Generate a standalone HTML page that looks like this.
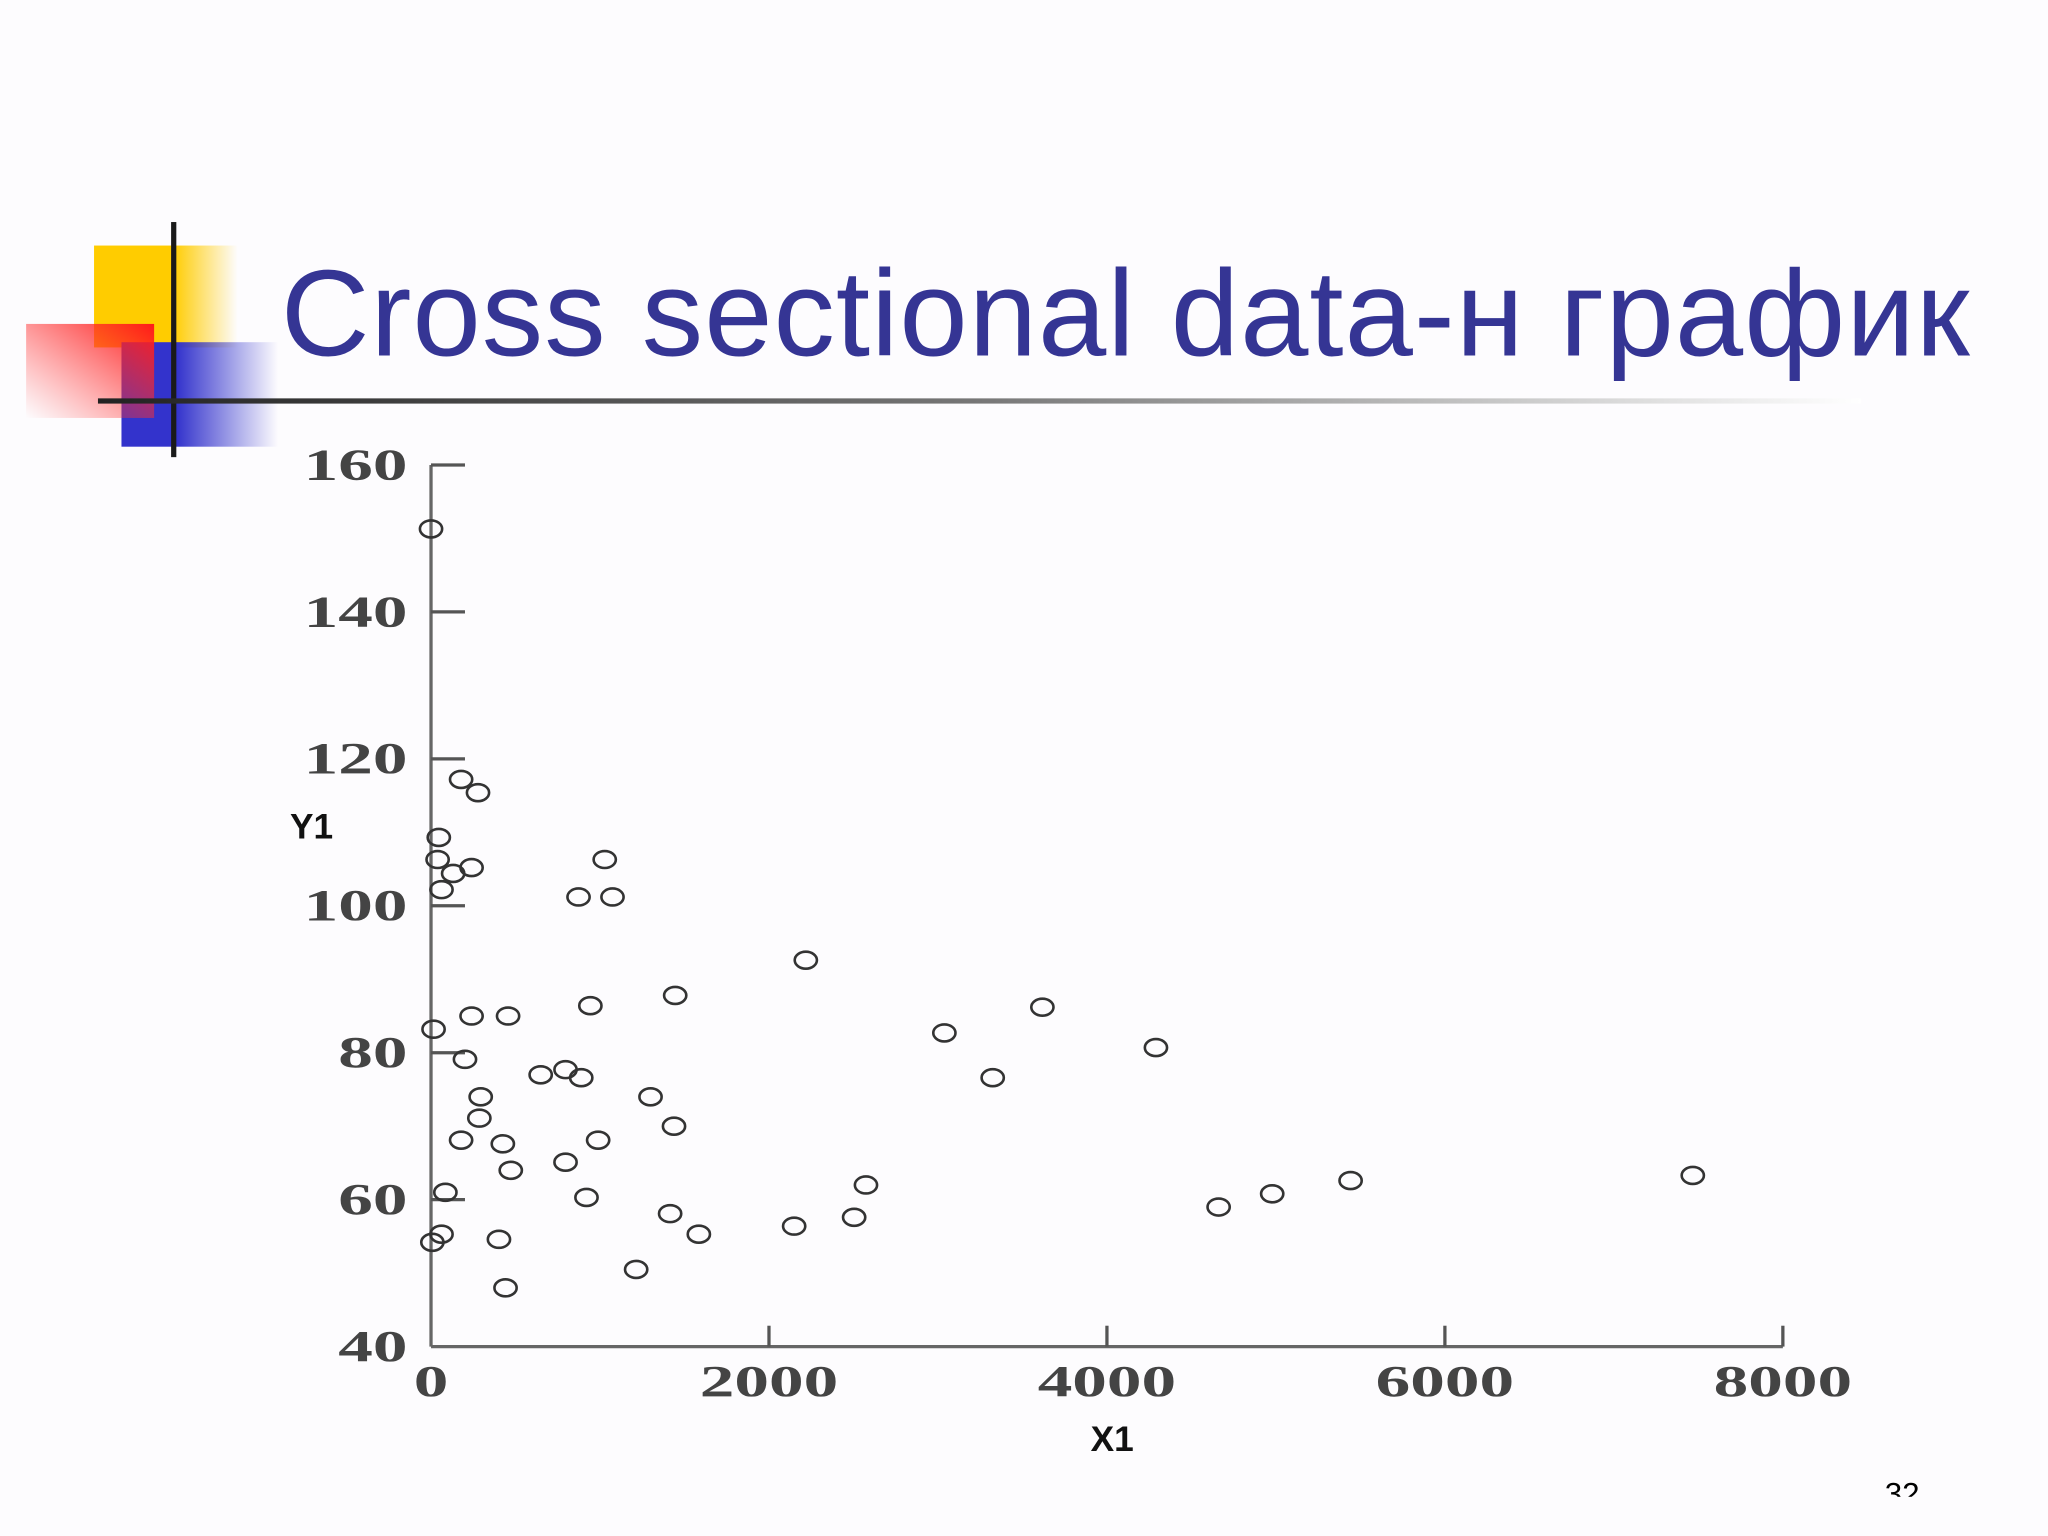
<!DOCTYPE html>
<html><head><meta charset="utf-8"><style>
html,body{margin:0;padding:0;background:#fdfcfe;}
svg{display:block;}
</style></head><body>
<svg width="2048" height="1536" viewBox="0 0 1568 1176" xmlns="http://www.w3.org/2000/svg">
<defs>
<linearGradient id="yel" x1="0" x2="1"><stop offset="0" stop-color="#ffcc00"/><stop offset="0.55" stop-color="#ffcc00"/><stop offset="1" stop-color="#ffcc00" stop-opacity="0"/></linearGradient>
<linearGradient id="blu" x1="0" x2="1"><stop offset="0" stop-color="#3333cc"/><stop offset="0.35" stop-color="#3333cc"/><stop offset="1" stop-color="#3333cc" stop-opacity="0"/></linearGradient>
<linearGradient id="red" x1="1" y1="0" x2="0" y2="1"><stop offset="0" stop-color="#ff1a1a"/><stop offset="1" stop-color="#ff4444" stop-opacity="0"/></linearGradient>
<linearGradient id="hl" x1="0" x2="1"><stop offset="0" stop-color="#222"/><stop offset="0.5" stop-color="#777"/><stop offset="1" stop-color="#fff"/></linearGradient>
</defs>
<rect width="1568" height="1176" fill="#fdfcfe"/>
<g>
<rect x="72" y="188" width="110" height="78" fill="url(#yel)"/>
<rect x="93" y="262" width="120" height="80" fill="url(#blu)"/>
<rect x="20" y="248" width="98" height="72" fill="url(#red)"/>
<rect x="131" y="170" width="4" height="180" fill="#1a1a1a"/>
<rect x="75" y="305" width="1350" height="4" fill="url(#hl)"/>
</g>
<text x="215" y="272" font-family="Liberation Sans, sans-serif" font-size="94" fill="#353594" textLength="1293">Cross sectional data-н график</text>
<g id="chart"></g>
<text x="1443" y="1152" font-family="Liberation Sans, sans-serif" font-size="24" fill="#000">32</text>
<rect x="1400" y="1146" width="120" height="30" fill="#fdfcfe"/>
</svg>
<script>
const xTicks=[0,2000,4000,6000,8000];
const yTicks=[40,60,80,100,120,140,160];
const xVals=[0,178,278,46,39,131,240,62,873,1074,1028,2218,15,240,456,943,1445,201,649,796,889,294,1299,286,1438,178,425,989,472,796,85,920,1415,2504,2574,2149,1585,62,8,402,1214,441,3038,3324,3618,4290,4661,4978,5442,7467];
const yVals=[151.3,117.2,115.4,109.3,106.3,104.4,105.2,102.2,101.2,101.2,106.3,92.6,83.2,85,85,86.4,87.8,79.1,77,77.7,76.6,74,74,71.1,70,68.1,67.6,68.1,64,65.1,61,60.3,58.1,57.6,62,56.4,55.3,55.3,54.2,54.6,50.5,48,82.7,76.6,86.2,80.7,59,60.8,62.6,63.3];
const NS='http://www.w3.org/2000/svg';
const g=document.getElementById('chart');
const X0=330,X1=1365,Y0=1031,Y1=356;
function sx(v){return X0+(v-0)/(8000-0)*(X1-X0);}
function sy(v){return Y0-(v-40)/(160-40)*(Y0-Y1);}
function mk(t,a){const e=document.createElementNS(NS,t);for(const k in a)e.setAttribute(k,a[k]);g.appendChild(e);return e;}
let e;
e=mk('line',{x1:X0,y1:Y1,x2:X0,y2:Y0,stroke:'#666','stroke-width':2.5});


e=mk('line',{x1:X0,y1:Y0,x2:X1,y2:Y0,stroke:'#666','stroke-width':2.5});


yTicks.forEach(v=>{
 if(v>40){e=mk('line',{x1:X0,y1:sy(v),x2:X0+26,y2:sy(v),stroke:'#555','stroke-width':2.5});
 
 }
 const s=String(v);
 e=mk('text',{x:312,y:sy(v)+11,'text-anchor':'end','font-family':'Liberation Serif, serif','font-size':34,'font-weight':'bold',fill:'#444',textLength:s.length*26.5,lengthAdjust:'spacingAndGlyphs'});
 e.textContent=s;
 
 
});
xTicks.forEach(v=>{
 if(v>0){e=mk('line',{x1:sx(v),y1:Y0,x2:sx(v),y2:Y0-16,stroke:'#555','stroke-width':2.5});
 
 }
 const s=String(v);
 e=mk('text',{x:sx(v),y:1069,'text-anchor':'middle','font-family':'Liberation Serif, serif','font-size':34,'font-weight':'bold',fill:'#444',textLength:s.length*26.5,lengthAdjust:'spacingAndGlyphs'});
 e.textContent=s;
 
 
});
e=mk('text',{x:222,y:642,'font-family':'Liberation Sans, sans-serif','font-size':27,'font-weight':'bold',fill:'#111'});
e.textContent='Y1';


e=mk('text',{x:835,y:1111,'font-family':'Liberation Sans, sans-serif','font-size':27,'font-weight':'bold',fill:'#111'});
e.textContent='X1';


xVals.forEach((xv,i)=>{
 e=mk('ellipse',{cx:sx(xv),cy:sy(yVals[i]),rx:8.5,ry:6.5,fill:'none',stroke:'#333','stroke-width':2});
 
 
});
</script>
</body></html>
